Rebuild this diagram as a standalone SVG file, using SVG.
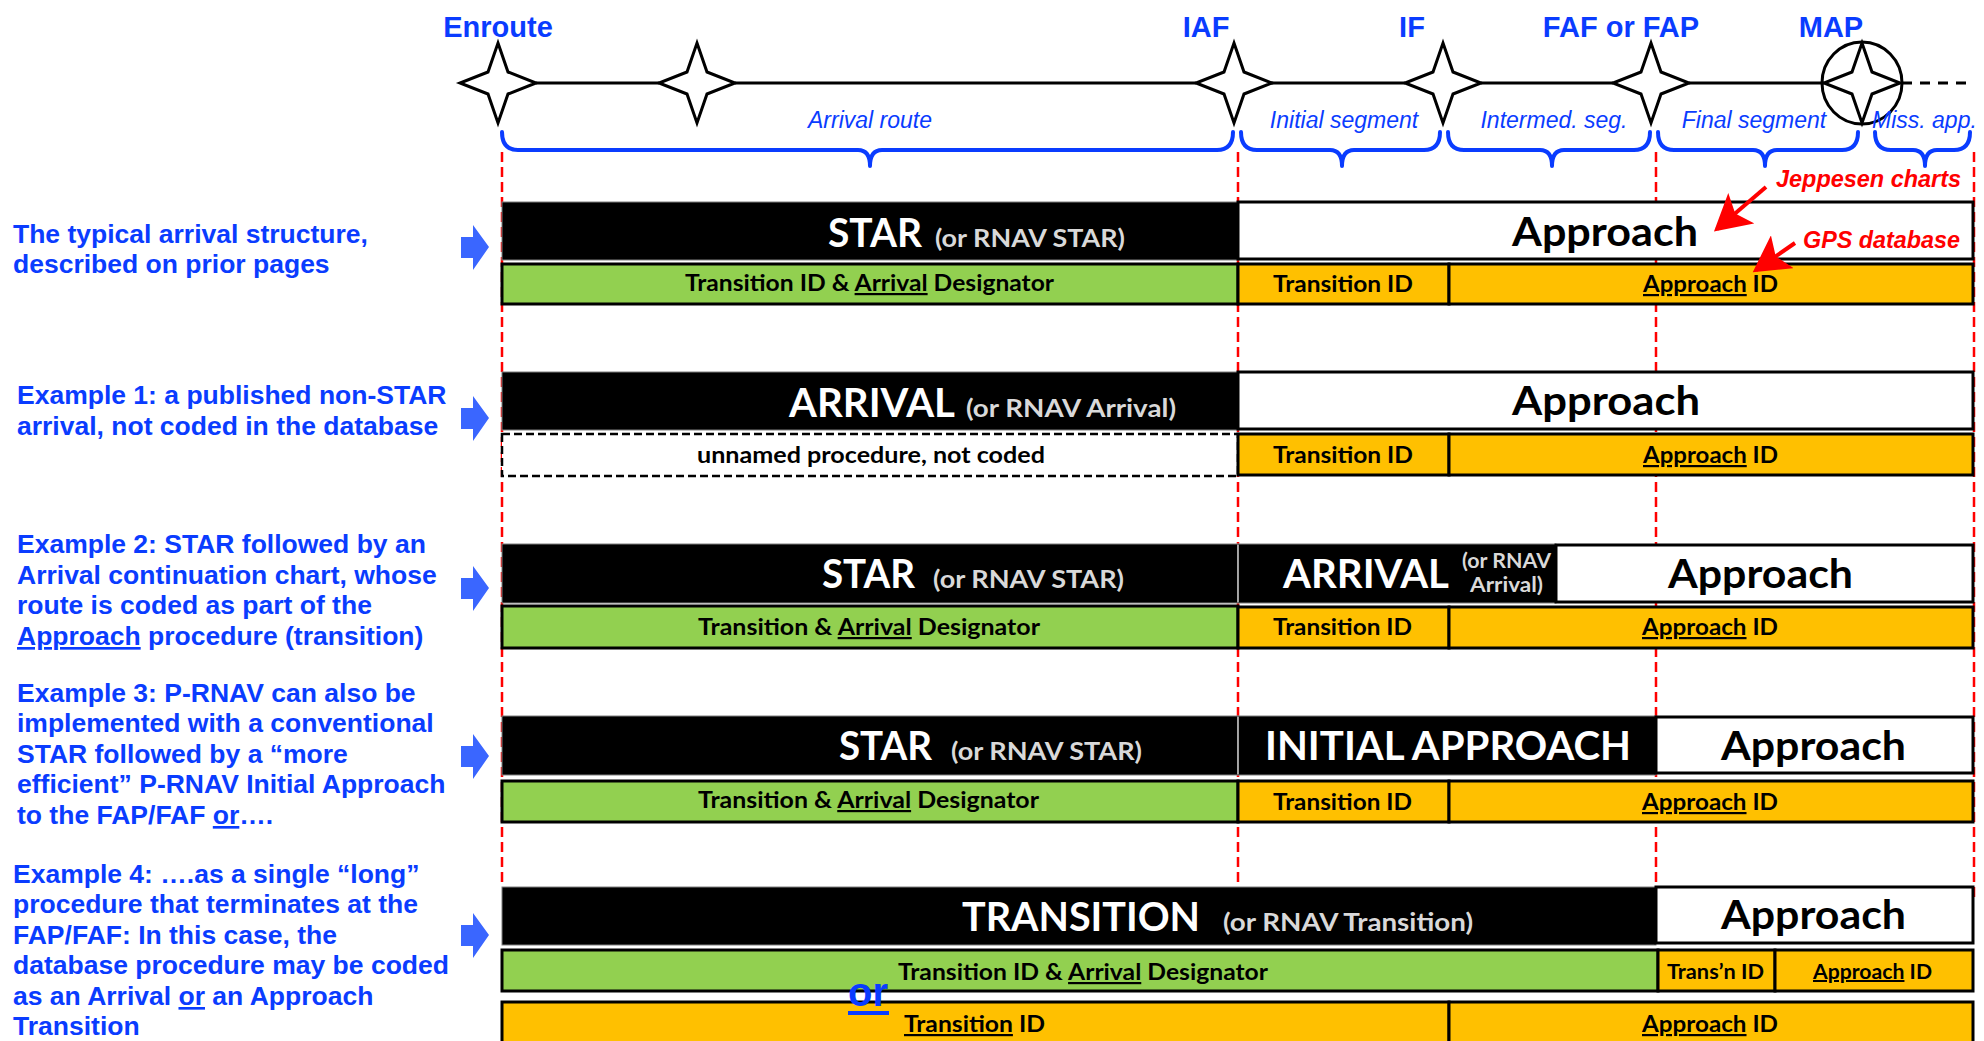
<svg xmlns="http://www.w3.org/2000/svg" width="1984" height="1041" viewBox="0 0 1984 1041">
<style>
.bl{font-family:"Liberation Sans",Arial,sans-serif;font-weight:bold;fill:#0a3cff}
.lt{font-size:26.5px}
.fix{font-size:29px;text-anchor:middle}
.seg{font-family:"Liberation Sans",Arial,sans-serif;font-style:italic;font-size:23px;fill:#0a3cff;text-anchor:middle}
.red{font-family:"Liberation Sans",Arial,sans-serif;font-style:italic;font-weight:bold;font-size:23px;fill:#ff0000}
.cal{font-family:Lato,"Liberation Sans",sans-serif;font-weight:bold}
.hd{font-size:40px;fill:#fff}
.sub{font-size:24px;fill:#d9d9d9}
.sub2{font-size:20px;fill:#d9d9d9}
.ap{font-size:40px;fill:#000}
.id{font-size:22px;fill:#000}
.id2{font-size:20px;fill:#000}
.blk{fill:#000;stroke:#7f7f7f;stroke-width:1}
.wht{fill:#fff;stroke:#000;stroke-width:3}
.grn{fill:#92d050;stroke:#000;stroke-width:3}
.org{fill:#ffc000;stroke:#000;stroke-width:3}
.dsh{fill:#fff;stroke:#000;stroke-width:2.5;stroke-dasharray:8 4}
.rl{stroke:#ff0000;stroke-width:2.5;stroke-dasharray:10 5;fill:none}
.brace{fill:none;stroke:#0a3cff;stroke-width:4;stroke-linecap:round;stroke-linejoin:round}
.barrow{fill:#3a66ff}
.route{stroke:#000;stroke-width:3}
.u{text-decoration:underline}
</style>
<defs>
<path id="star" d="M0,-40 L10,-11 L38,0 L10,11 L0,40 L-10,11 L-38,0 L-10,-11 Z" fill="#fff" stroke="#000" stroke-width="3" stroke-linejoin="miter"/>
<path id="bar" d="M0,-10 L12,-10 L12,-22 L28,0 L12,23 L12,11 L0,11 Z"/>
<marker id="ah" markerWidth="10" markerHeight="10" refX="8" refY="5" orient="auto" markerUnits="strokeWidth">
<path d="M0,0 L9,5 L0,10 L2,5 Z" fill="#ff0000"/>
</marker>
</defs>
<rect x="0" y="0" width="1984" height="1041" fill="#fff"/>

<!-- reference verticals -->
<g id="guides">
<line class="rl" x1="502" y1="152" x2="502" y2="886"/>
<line class="rl" x1="1238" y1="152" x2="1238" y2="886"/>
<line class="rl" x1="1656" y1="152" x2="1656" y2="886"/>
<line class="rl" x1="1974" y1="152" x2="1974" y2="900"/>
</g>

<!-- fixes -->
<g id="fix-enroute"><use href="#star" x="498" y="83"/><text class="bl fix" x="498" y="37">Enroute</text></g>
<g id="fix-2"><use href="#star" x="697" y="83"/></g>
<g id="fix-iaf"><use href="#star" x="1234" y="83"/><text class="bl fix" x="1206" y="37">IAF</text></g>
<g id="fix-if"><use href="#star" x="1443" y="83"/><text class="bl fix" x="1412" y="37">IF</text></g>
<g id="fix-faf"><use href="#star" x="1651" y="83"/><text class="bl fix" x="1621" y="37">FAF or FAP</text></g>
<g id="fix-map"><use href="#star" x="1862" y="83"/><ellipse cx="1862" cy="83" rx="40" ry="41" fill="none" stroke="#000" stroke-width="3"/><text class="bl fix" x="1831" y="37">MAP</text></g>

<!-- segment braces -->
<g id="segments">
<path class="brace" d="M502,132 Q502,150 518,150 L858,150 Q870,150 870,166 Q870,150 882,150 L1217,150 Q1233,150 1233,132"/>
<text class="seg" x="870" y="128">Arrival route</text>
<path class="brace" d="M1241,132 Q1241,150 1257,150 L1330,150 Q1342,150 1342,166 Q1342,150 1354,150 L1424,150 Q1440,150 1440,132"/>
<text class="seg" x="1344" y="128">Initial segment</text>
<path class="brace" d="M1448,132 Q1448,150 1464,150 L1540,150 Q1552,150 1552,166 Q1552,150 1564,150 L1634,150 Q1650,150 1650,132"/>
<text class="seg" x="1554" y="128">Intermed. seg.</text>
<path class="brace" d="M1658,132 Q1658,150 1674,150 L1753,150 Q1765,150 1765,166 Q1765,150 1777,150 L1842,150 Q1858,150 1858,132"/>
<text class="seg" x="1754" y="128">Final segment</text>
<path class="brace" d="M1875,132 Q1875,150 1891,150 L1913,150 Q1925,150 1925,166 Q1925,150 1937,150 L1954,150 Q1970,150 1970,132"/>
<text class="seg" x="1872" y="128" style="text-anchor:start">Miss. app.</text>
</g>

<!-- left descriptions -->
<g id="desc-0">
<text class="bl lt" x="13" y="243">The typical arrival structure,</text>
<text class="bl lt" x="13" y="273">described on prior pages</text>
<use href="#bar" class="barrow" x="461" y="247"/>
</g>
<g id="desc-1">
<text class="bl lt" x="17" y="404">Example 1: a published non-STAR</text>
<text class="bl lt" x="17" y="435">arrival, not coded in the database</text>
<use href="#bar" class="barrow" x="461" y="418"/>
</g>
<g id="desc-2">
<text class="bl lt" x="17" y="553">Example 2: STAR followed by an</text>
<text class="bl lt" x="17" y="584">Arrival continuation chart, whose</text>
<text class="bl lt" x="17" y="614">route is coded as part of the</text>
<text class="bl lt" x="17" y="645"><tspan class="u">Approach</tspan> procedure (transition)</text>
<use href="#bar" class="barrow" x="461" y="588"/>
</g>
<g id="desc-3">
<text class="bl lt" x="17" y="702">Example 3: P-RNAV can also be</text>
<text class="bl lt" x="17" y="732">implemented with a conventional</text>
<text class="bl lt" x="17" y="763">STAR followed by a “more</text>
<text class="bl lt" x="17" y="793">efficient” P-RNAV Initial Approach</text>
<text class="bl lt" x="17" y="824">to the FAP/FAF <tspan class="u">or</tspan>….</text>
<use href="#bar" class="barrow" x="461" y="756"/>
</g>
<g id="desc-4">
<text class="bl lt" x="13" y="883">Example 4: ….as a single “long”</text>
<text class="bl lt" x="13" y="913">procedure that terminates at the</text>
<text class="bl lt" x="13" y="944">FAP/FAF: In this case, the</text>
<text class="bl lt" x="13" y="974">database procedure may be coded</text>
<text class="bl lt" x="13" y="1005">as an Arrival <tspan class="u">or</tspan> an Approach</text>
<text class="bl lt" x="13" y="1035">Transition</text>
<use href="#bar" class="barrow" x="461" y="935"/>
</g>

<!-- row 0 -->
<g id="row-0">
<rect class="blk" x="502" y="202" width="736" height="58"/>
<text class="cal hd" x="828" y="247" textLength="94" lengthAdjust="spacingAndGlyphs">STAR</text>
<text class="cal sub" x="935" y="247" textLength="190" lengthAdjust="spacingAndGlyphs">(or RNAV STAR)</text>
<rect class="wht" x="1238" y="202" width="735" height="57"/>
<text class="cal ap" x="1512" y="246" textLength="186" lengthAdjust="spacingAndGlyphs">Approach</text>
<rect class="grn" x="502" y="264" width="736" height="40"/>
<text class="cal id" x="685" y="291" textLength="369" lengthAdjust="spacingAndGlyphs">Transition ID &amp; <tspan class="u">Arrival</tspan> Designator</text>
<rect class="org" x="1238" y="264" width="211" height="40"/>
<text class="cal id" x="1273" y="292" textLength="140" lengthAdjust="spacingAndGlyphs">Transition ID</text>
<rect class="org" x="1449" y="264" width="524" height="40"/>
<text class="cal id" x="1643" y="292" textLength="135" lengthAdjust="spacingAndGlyphs"><tspan class="u">Approach</tspan> ID</text>
</g>

<!-- annotations -->
<g id="annotations">
<text class="red" x="1776" y="187" textLength="185" lengthAdjust="spacingAndGlyphs">Jeppesen charts</text>
<text class="red" x="1803" y="248" textLength="157" lengthAdjust="spacingAndGlyphs">GPS database</text>
</g>

<!-- row 1 -->
<g id="row-1">
<rect class="blk" x="502" y="372" width="736" height="58"/>
<text class="cal hd" x="789" y="417" textLength="166" lengthAdjust="spacingAndGlyphs">ARRIVAL</text>
<text class="cal sub" x="966" y="417" textLength="210" lengthAdjust="spacingAndGlyphs">(or RNAV Arrival)</text>
<rect class="wht" x="1238" y="372" width="735" height="57"/>
<text class="cal ap" x="1512" y="415" textLength="188" lengthAdjust="spacingAndGlyphs">Approach</text>
<rect class="dsh" x="502" y="434" width="736" height="42"/>
<text class="cal id" x="697" y="463" textLength="348" lengthAdjust="spacingAndGlyphs">unnamed procedure, not coded</text>
<rect class="org" x="1238" y="434" width="211" height="41"/>
<text class="cal id" x="1273" y="463" textLength="140" lengthAdjust="spacingAndGlyphs">Transition ID</text>
<rect class="org" x="1449" y="434" width="524" height="41"/>
<text class="cal id" x="1643" y="463" textLength="135" lengthAdjust="spacingAndGlyphs"><tspan class="u">Approach</tspan> ID</text>
</g>

<!-- row 2 -->
<g id="row-2">
<rect class="blk" x="502" y="544" width="736" height="59"/>
<text class="cal hd" x="822" y="588" textLength="93" lengthAdjust="spacingAndGlyphs">STAR</text>
<text class="cal sub" x="933" y="588" textLength="191" lengthAdjust="spacingAndGlyphs">(or RNAV STAR)</text>
<rect class="blk" x="1238" y="544" width="318" height="59"/>
<line x1="1238" y1="545" x2="1238" y2="602" stroke="#bfbfbf" stroke-width="1.5"/>
<text class="cal hd" x="1283" y="588" textLength="166" lengthAdjust="spacingAndGlyphs">ARRIVAL</text>
<text class="cal sub2" x="1462" y="568" textLength="89" lengthAdjust="spacingAndGlyphs">(or RNAV</text>
<text class="cal sub2" x="1470" y="592" textLength="73" lengthAdjust="spacingAndGlyphs">Arrival)</text>
<rect class="wht" x="1556" y="545" width="417" height="57"/>
<text class="cal ap" x="1668" y="588" textLength="185" lengthAdjust="spacingAndGlyphs">Approach</text>
<rect class="grn" x="502" y="606" width="736" height="42"/>
<text class="cal id" x="698" y="635" textLength="342" lengthAdjust="spacingAndGlyphs">Transition &amp; <tspan class="u">Arrival</tspan> Designator</text>
<rect class="org" x="1238" y="607" width="211" height="41"/>
<text class="cal id" x="1273" y="635" textLength="139" lengthAdjust="spacingAndGlyphs">Transition ID</text>
<rect class="org" x="1449" y="607" width="524" height="41"/>
<text class="cal id" x="1642" y="635" textLength="136" lengthAdjust="spacingAndGlyphs"><tspan class="u">Approach</tspan> ID</text>
</g>

<!-- row 3 -->
<g id="row-3">
<rect class="blk" x="502" y="716" width="736" height="59"/>
<text class="cal hd" x="839" y="760" textLength="93" lengthAdjust="spacingAndGlyphs">STAR</text>
<text class="cal sub" x="951" y="760" textLength="191" lengthAdjust="spacingAndGlyphs">(or RNAV STAR)</text>
<rect class="blk" x="1238" y="716" width="418" height="59"/>
<line x1="1238" y1="717" x2="1238" y2="774" stroke="#bfbfbf" stroke-width="1.5"/>
<text class="cal hd" x="1265" y="760" textLength="366" lengthAdjust="spacingAndGlyphs">INITIAL APPROACH</text>
<rect class="wht" x="1656" y="717" width="317" height="56"/>
<text class="cal ap" x="1721" y="760" textLength="185" lengthAdjust="spacingAndGlyphs">Approach</text>
<rect class="grn" x="502" y="781" width="736" height="41"/>
<text class="cal id" x="698" y="808" textLength="341" lengthAdjust="spacingAndGlyphs">Transition &amp; <tspan class="u">Arrival</tspan> Designator</text>
<rect class="org" x="1238" y="781" width="211" height="41"/>
<text class="cal id" x="1273" y="810" textLength="139" lengthAdjust="spacingAndGlyphs">Transition ID</text>
<rect class="org" x="1449" y="781" width="524" height="41"/>
<text class="cal id" x="1642" y="810" textLength="136" lengthAdjust="spacingAndGlyphs"><tspan class="u">Approach</tspan> ID</text>
</g>

<!-- row 4 -->
<g id="row-4">
<rect class="blk" x="502" y="887" width="1154" height="58"/>
<text class="cal hd" x="962" y="931" textLength="238" lengthAdjust="spacingAndGlyphs">TRANSITION</text>
<text class="cal sub" x="1223" y="931" textLength="250" lengthAdjust="spacingAndGlyphs">(or RNAV Transition)</text>
<rect class="wht" x="1656" y="887" width="317" height="56"/>
<text class="cal ap" x="1721" y="929" textLength="185" lengthAdjust="spacingAndGlyphs">Approach</text>
<rect class="grn" x="502" y="950" width="1156" height="41"/>
<text class="cal id" x="898" y="980" textLength="370" lengthAdjust="spacingAndGlyphs">Transition ID &amp; <tspan class="u">Arrival</tspan> Designator</text>
<rect class="org" x="1658" y="950" width="117" height="41"/>
<text class="cal id2" x="1667" y="979" textLength="97" lengthAdjust="spacingAndGlyphs">Trans’n ID</text>
<rect class="org" x="1775" y="950" width="198" height="41"/>
<text class="cal id2" x="1813" y="979" textLength="119" lengthAdjust="spacingAndGlyphs"><tspan class="u">Approach</tspan> ID</text>
<rect class="org" x="502" y="1002" width="947" height="50"/>
<text class="cal id" x="904" y="1032" textLength="141" lengthAdjust="spacingAndGlyphs"><tspan class="u">Transition</tspan> ID</text>
<rect class="org" x="1449" y="1002" width="524" height="50"/>
<text class="cal id" x="1642" y="1032" textLength="136" lengthAdjust="spacingAndGlyphs"><tspan class="u">Approach</tspan> ID</text>
<text class="bl" x="848" y="1006" style="font-size:40px" textLength="40" lengthAdjust="spacingAndGlyphs">or</text>
<rect x="848" y="1011" width="41" height="4" fill="#0a3cff"/>
</g>

<!-- connectors: route legs, missed approach, annotation arrows -->
<g id="connectors">
<line class="route" x1="536" y1="83" x2="659" y2="83"/>
<line class="route" x1="735" y1="83" x2="1196" y2="83"/>
<line class="route" x1="1272" y1="83" x2="1405" y2="83"/>
<line class="route" x1="1481" y1="83" x2="1613" y2="83"/>
<line class="route" x1="1689" y1="83" x2="1824" y2="83"/>
<line class="route" x1="1902" y1="83" x2="1966" y2="83" stroke-dasharray="10 8"/>
<line x1="1766" y1="187" x2="1717" y2="229" stroke="#ff0000" stroke-width="4" marker-end="url(#ah)"/>
<line x1="1795" y1="243" x2="1756" y2="270" stroke="#ff0000" stroke-width="4" marker-end="url(#ah)"/>
</g>
</svg>
